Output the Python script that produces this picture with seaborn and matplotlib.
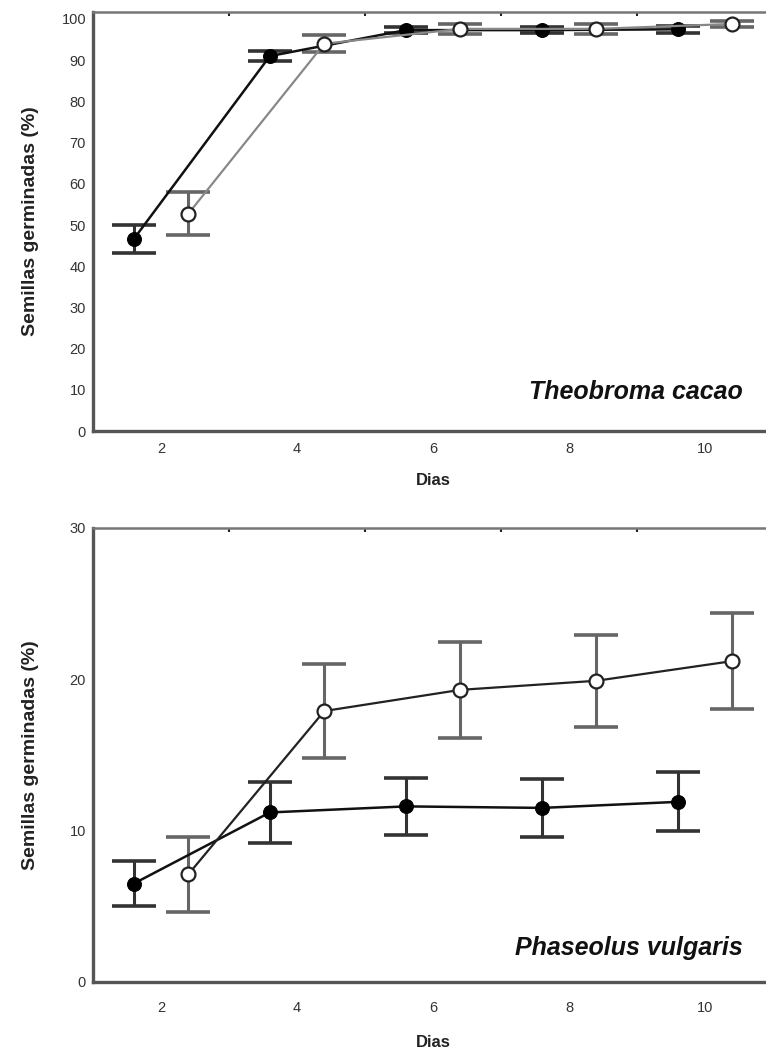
import numpy as np
import pandas as pd
import matplotlib
matplotlib.use("Agg")
import matplotlib.pyplot as plt
import seaborn as sns

# ---------------- data ----------------
dias = [2, 4, 6, 8, 10]

cacao_filled = [46.6, 91.0, 97.3, 97.3, 97.5]
cacao_filled_err = [3.5, 1.2, 0.8, 0.8, 0.8]
cacao_open = [52.7, 94.0, 97.6, 97.6, 98.8]
cacao_open_err = [5.2, 2.0, 1.2, 1.2, 0.8]

frijol_filled = [6.5, 11.2, 11.6, 11.5, 11.9]
frijol_filled_err = [1.5, 2.0, 1.9, 1.9, 1.95]
frijol_open = [7.1, 17.9, 19.3, 19.9, 21.2]
frijol_open_err = [2.5, 3.1, 3.15, 3.05, 3.15]

top_yticks = [0, 10, 20, 30, 40, 50, 60, 70, 80, 90, 100]
bot_yticks = [0, 10, 20, 30]
xlabel = "Dias"
ylabel = "Semillas germinadas (%)"
species = ["Theobroma cacao", "Phaseolus vulgaris"]

# ---------------- style ----------------
sns.set_style("white")
plt.rcParams['font.family'] = ['Liberation Sans', 'DejaVu Sans']

fig = plt.figure(figsize=(7.66, 10.51), dpi=100)
ax1 = fig.add_axes([0.1214, 0.5899, 0.888, 0.3987])
ax2 = fig.add_axes([0.1214, 0.0657, 0.888, 0.4320])

OFF = 0.4
spine_col = "#555555"


def panel(ax, fvals, ferr, ovals, oerr, ylim, yticks, name, open_line_col,
          name_y, xpad, xlabpad):
    d = np.array(dias, dtype=float)
    df_f = pd.DataFrame({"x": d - OFF, "y": fvals})
    df_o = pd.DataFrame({"x": d + OFF, "y": ovals})
    # error bars
    ax.errorbar(df_f["x"], df_f["y"], yerr=ferr, fmt="none", ecolor="#333333",
                elinewidth=2.2, capsize=16, capthick=2.6, zorder=2)
    ax.errorbar(df_o["x"], df_o["y"], yerr=oerr, fmt="none", ecolor="#666666",
                elinewidth=2.2, capsize=16, capthick=2.6, zorder=2)
    # lines + markers
    sns.lineplot(data=df_f, x="x", y="y", ax=ax, color="#111111", linewidth=1.8,
                 marker="o", markersize=10, markerfacecolor="black",
                 markeredgecolor="black", zorder=4, estimator=None, sort=False)
    sns.lineplot(data=df_o, x="x", y="y", ax=ax, color=open_line_col, linewidth=1.6,
                 marker="o", markersize=10, markerfacecolor="white",
                 markeredgecolor="#222222", markeredgewidth=1.6, zorder=4,
                 estimator=None, sort=False)
    ax.set_xlim(1, 11)
    ax.set_ylim(*ylim)
    ax.set_yticks(yticks)
    ax.set_yticklabels([str(t) for t in yticks], fontsize=10.5, color="#333333")
    ax.set_xticks(dias)
    ax.set_xticklabels([str(t) for t in dias], fontsize=10.5, color="#333333")
    ax.set_xticks([3, 5, 7, 9], minor=True)
    ax.tick_params(axis="x", which="major", length=0, pad=xpad)
    ax.tick_params(axis="x", which="minor", length=3, direction="in",
                   width=1.5, color="#222222", top=True)
    ax.tick_params(axis="y", which="major", length=3, direction="in",
                   width=1.2, color="#222222", pad=5)
    for s in ["left", "bottom"]:
        ax.spines[s].set_color(spine_col)
        ax.spines[s].set_linewidth(2.4)
    ax.spines["top"].set_color("#777777")
    ax.spines["top"].set_linewidth(1.8)
    ax.spines["right"].set_visible(False)
    ax.set_xlabel(xlabel, fontsize=12, fontweight="bold", labelpad=xlabpad,
                  color="#222222")
    ax.set_ylabel(ylabel, fontsize=14, fontweight="bold", color="#222222")
    ax.yaxis.set_label_coords(-0.08, 0.5)
    ax.text(10.55, ylim[0] + (ylim[1] - ylim[0]) * name_y, name,
            fontsize=18, fontstyle="italic", fontweight="bold",
            ha="right", va="center", color="#111111")


panel(ax1, cacao_filled, cacao_filled_err, cacao_open, cacao_open_err,
      (0, 101.7), top_yticks, species[0], "#888888", 0.093, 8, 12)
panel(ax2, frijol_filled, frijol_filled_err, frijol_open, frijol_open_err,
      (0, 30), bot_yticks, species[1], "#222222", 0.075, 14, 14)

fig.savefig("out.png", dpi=100)
